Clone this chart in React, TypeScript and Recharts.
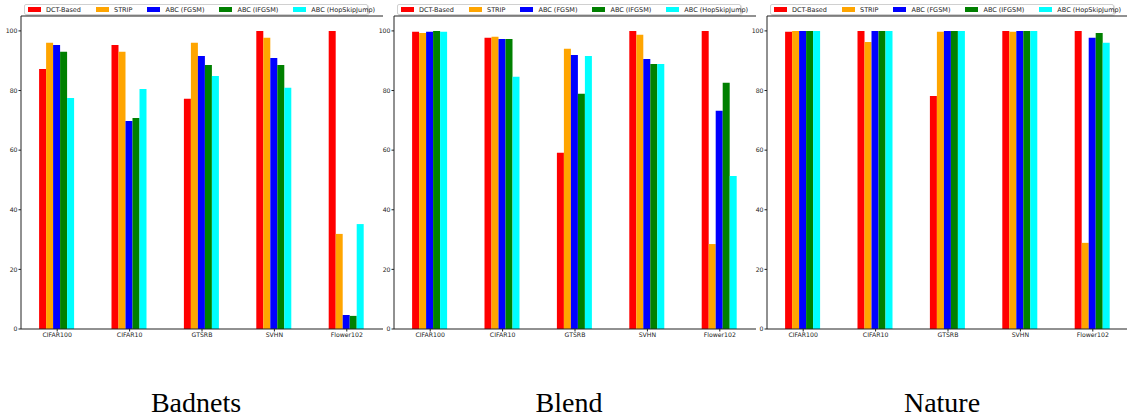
import React from 'react';
import { BarChart, Bar, XAxis, YAxis, Legend, ReferenceLine } from 'recharts';

// datasets on the x axis
const categories = ['CIFAR100', 'CIFAR10', 'GTSRB', 'SVHN', 'Flower102'];
const yTicks = [0, 20, 40, 60, 80, 100];

// detection rate per method, one array per panel and method
const badnetsDct = [87.2, 95.3, 77.2, 100, 100];
const badnetsStrip = [96.0, 93.0, 96.0, 97.7, 31.9];
const badnetsFgsm = [95.3, 69.8, 91.6, 90.9, 4.7];
const badnetsIfgsm = [93.0, 70.8, 88.6, 88.6, 4.4];
const badnetsHsj = [77.5, 80.5, 84.9, 80.9, 35.2];

const blendDct = [99.7, 97.7, 59.1, 100, 100];
const blendStrip = [99.3, 98.0, 94.0, 98.7, 28.5];
const blendFgsm = [99.7, 97.3, 91.9, 90.6, 73.2];
const blendIfgsm = [100, 97.3, 78.9, 88.9, 82.6];
const blendHsj = [99.7, 84.6, 91.6, 88.9, 51.3];

const natureDct = [99.7, 100, 78.2, 100, 100];
const natureStrip = [100, 96.3, 99.7, 99.7, 28.9];
const natureFgsm = [100, 100, 100, 100, 97.7];
const natureIfgsm = [100, 100, 100, 100, 99.3];
const natureHsj = [100, 100, 100, 100, 96.0];

const SERIES = [
  { key: 'dct', name: 'DCT-Based', color: '#ff0000' },
  { key: 'strip', name: 'STRIP', color: '#ffa500' },
  { key: 'fgsm', name: 'ABC (FGSM)', color: '#0000ff' },
  { key: 'ifgsm', name: 'ABC (IFGSM)', color: '#008000' },
  { key: 'hsj', name: 'ABC (HopSkipJump)', color: '#00ffff' },
];

const PANELS = [
  { title: 'Badnets', left: 0, center: 196, values: [badnetsDct, badnetsStrip, badnetsFgsm, badnetsIfgsm, badnetsHsj] },
  { title: 'Blend', left: 373, center: 569, values: [blendDct, blendStrip, blendFgsm, blendIfgsm, blendHsj] },
  { title: 'Nature', left: 746, center: 942, values: [natureDct, natureStrip, natureFgsm, natureIfgsm, natureHsj] },
];

const TICK_FONT = { fontFamily: 'DejaVu Sans', fontSize: 6.2, fill: '#222' };
const SPINE = { stroke: '#222', strokeWidth: 1 };

function buildRows(values: number[][]) {
  return categories.map((name, i) => {
    const row: Record<string, string | number> = { name };
    SERIES.forEach((s, j) => {
      row[s.key] = values[j][i];
    });
    return row;
  });
}

// recharts sorts the legend payload by name, put it back in series order
const seriesIndex = (name: string) => SERIES.findIndex((s) => s.name === name);

function LegendBox({ payload }: any) {
  const items = [...(payload ?? [])].sort((a: any, b: any) => seriesIndex(a.value) - seriesIndex(b.value));
  return (
    <div
      style={{
        display: 'flex',
        alignItems: 'center',
        height: 11,
        padding: '0 3px',
        border: '1px solid #d0d0d0',
        borderRadius: 2,
        background: 'rgba(255,255,255,0.85)',
        boxShadow: '1px 1px 1px rgba(0,0,0,0.15)',
        fontFamily: 'DejaVu Sans',
        fontSize: 6.5,
        color: '#222',
        whiteSpace: 'nowrap',
        boxSizing: 'border-box',
      }}
    >
      {items.map((p: any, i: number) => (
        <span key={p.value} style={{ display: 'flex', alignItems: 'center', marginLeft: i === 0 ? 0 : 15 }}>
          <span style={{ display: 'inline-block', width: 13, height: 5, background: p.color, marginRight: 5 }} />
          {p.value}
        </span>
      ))}
    </div>
  );
}

function Panel({ values, left }: { values: number[][]; left: number }) {
  const rows = buildRows(values);
  return (
    <div style={{ position: 'absolute', left, top: 0 }}>
      <BarChart
        width={390}
        height={345}
        data={rows}
        margin={{ top: 16, right: 7, bottom: 0, left: 0 }}
        barCategoryGap="25%"
        barGap={0}
      >
        <XAxis
          dataKey="name"
          height={16}
          tick={TICK_FONT}
          tickSize={2.5}
          tickMargin={1.5}
          axisLine={SPINE}
          tickLine={{ stroke: '#222' }}
          interval={0}
        />
        <YAxis
          width={21}
          domain={[0, 105]}
          ticks={yTicks}
          allowDataOverflow
          tick={TICK_FONT}
          tickSize={2.5}
          tickMargin={1}
          axisLine={SPINE}
          tickLine={{ stroke: '#222' }}
        />
        <YAxis
          yAxisId="right"
          orientation="right"
          width={0}
          type="number"
          domain={[0, 105]}
          tick={false}
          tickLine={false}
          axisLine={SPINE}
        />
        <ReferenceLine y={105} stroke="#222" strokeWidth={1} />
        <Legend
          layout="horizontal"
          verticalAlign="middle"
          align="center"
          content={<LegendBox />}
          wrapperStyle={{ top: 4, left: 24, width: 344 }}
        />
        {SERIES.map((s) => (
          <Bar key={s.key} dataKey={s.key} name={s.name} fill={s.color} isAnimationActive={false} />
        ))}
      </BarChart>
    </div>
  );
}

export default function App() {
  return (
    <div style={{ position: 'absolute', left: 0, top: 0, width: 1127, height: 419, overflow: 'hidden', background: '#fff' }}>
      {PANELS.map((p) => (
        <Panel key={p.title} values={p.values} left={p.left} />
      ))}
      {PANELS.map((p) => (
        <div
          key={p.title + '-title'}
          style={{
            position: 'absolute',
            top: 389,
            left: p.center - 100,
            width: 200,
            textAlign: 'center',
            fontFamily: 'Liberation Serif',
            fontSize: 28,
            lineHeight: '28px',
            color: '#000',
          }}
        >
          {p.title}
        </div>
      ))}
    </div>
  );
}
